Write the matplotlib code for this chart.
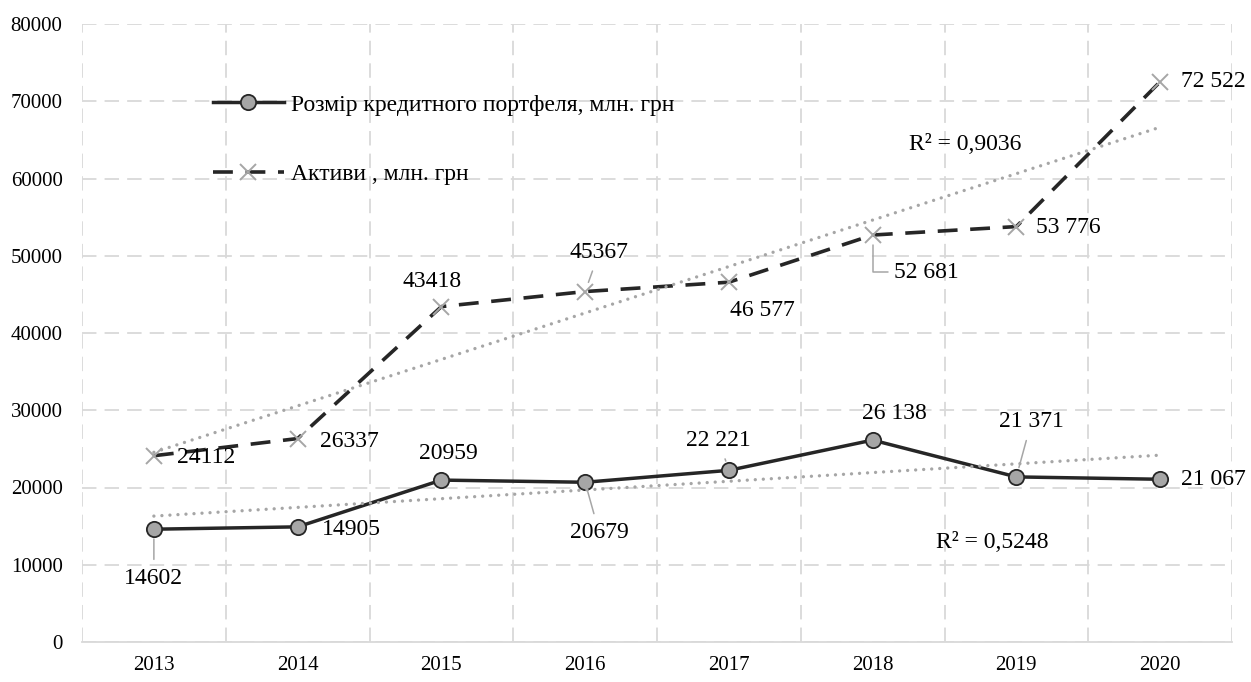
import numpy as np
import matplotlib.pyplot as plt

years = ['2013', '2014', '2015', '2016', '2017', '2018', '2019', '2020']
portfolio = [14602, 14905, 20959, 20679, 22221, 26138, 21371, 21067]
assets = [24112, 26337, 43418, 45367, 46577, 52681, 53776, 72522]
portfolio_labels = ['14602', '14905', '20959', '20679', '22 221', '26 138', '21 371', '21 067']
assets_labels = ['24112', '26337', '43418', '45367', '46 577', '52 681', '53 776', '72 522']
portfolio_name = 'Розмір кредитного портфеля, млн. грн'
assets_name = 'Активи , млн. грн'
y_ticks = list(range(0, 80001, 10000))

plt.rcParams['font.family'] = ['Liberation Serif', 'DejaVu Serif']

DARK = '#262626'
GREY = '#a6a6a6'
GRID = '#d9d9d9'

fig = plt.figure(figsize=(12.51, 6.82), dpi=100)
ax = fig.add_axes([82 / 1251, 40 / 682, 1150 / 1251, 618 / 682])
x = np.arange(1, len(years) + 1)

# grid and axes
ax.set_xlim(0.5, len(years) + 0.5)
ax.set_ylim(0, 80000)
ax.set_yticks(y_ticks)
ax.set_yticklabels([str(v) for v in y_ticks])
ax.set_xticks(x)
ax.set_xticklabels(years)
ax.set_xticks(np.arange(0.5, len(years) + 1, 1), minor=True)
ax.tick_params(axis='both', which='both', length=0, labelsize=15, colors='black')
ax.tick_params(axis='y', pad=14)
ax.tick_params(axis='x', pad=10)
ax.grid(axis='y', which='major', color=GRID, lw=1.3, linestyle=(0, (8, 4.5)))
ax.grid(axis='x', which='minor', color=GRID, lw=1.3, linestyle=(0, (8, 4.5)))
ax.set_axisbelow(True)
for side in ['left', 'right', 'top']:
    ax.spines[side].set_visible(False)
ax.spines['bottom'].set_color(GRID)
ax.spines['bottom'].set_linewidth(1.3)

# series
ax.plot(x, portfolio, color=DARK, lw=2.5, marker='o', markersize=11,
        markerfacecolor=GREY, markeredgecolor=DARK, markeredgewidth=1.3,
        label=portfolio_name, zorder=3)
ax.plot(x, assets, color=DARK, lw=2.6, linestyle=(0, (5.5, 3.5)), marker='x',
        markersize=11, markeredgecolor=GREY, markeredgewidth=1.4,
        label=assets_name, zorder=3)

# linear trendlines
def trend(values):
    k, b = np.polyfit(x, values, 1)
    fit = k * x + b
    vals = np.array(values)
    r2 = 1 - np.sum((vals - fit) ** 2) / np.sum((vals - vals.mean()) ** 2)
    ax.plot([x[0], x[-1]], [k * x[0] + b, k * x[-1] + b], color=GREY, lw=2.4,
            linestyle=(0, (0.01, 2.4)), dash_capstyle='round', zorder=4)
    return f'R² = {r2:.4f}'.replace('.', ',')

r2_assets = trend(assets)
r2_portfolio = trend(portfolio)
ax.annotate(r2_assets, xy=(965 / 1251, 1 - 145 / 682), xycoords='figure fraction',
            ha='center', va='center', fontsize=17)
ax.annotate(r2_portfolio, xy=(992 / 1251, 1 - 542 / 682), xycoords='figure fraction',
            ha='center', va='center', fontsize=17)

# data labels: (dx, dy) in pixels, ha, leader style
px = 0.72
port_pos = [(0, -49, 'center', 'v'), (24, -3, 'left', None), (7, 27, 'center', None),
            (14, -50, 'center', 'd'), (-10, 30, 'center', 'd'), (22, 27, 'center', None),
            (15, 55, 'center', 'd'), (21, 0, 'left', None)]
asset_pos = [(23, -2, 'left', None), (22, -3, 'left', None), (-9, 25, 'center', None),
             (14, 39, 'center', 'd'), (33, -28, 'center', None), (21, -37, 'left', 'e'),
             (20, -1, 'left', None), (21, 0, 'left', None)]

def put_labels(values, texts, pos):
    for xi, v, t, (dx, dy, ha, lead) in zip(x, values, texts, pos):
        arrow = None
        if lead == 'v' or lead == 'd':
            arrow = dict(arrowstyle='-', color=GREY, lw=1.1, shrinkA=4, shrinkB=7)
        elif lead == 'e':
            arrow = dict(arrowstyle='-', color=GREY, lw=1.1, shrinkA=2, shrinkB=7,
                         relpos=(0, 0.5),
                         connectionstyle='angle,angleA=0,angleB=90,rad=0')
        ax.annotate(t, xy=(xi, v), xytext=(dx * px, dy * px), textcoords='offset points',
                    ha=ha, va='center', fontsize=17, arrowprops=arrow, zorder=5)

put_labels(portfolio, portfolio_labels, port_pos)
put_labels(assets, assets_labels, asset_pos)

ax.legend(loc='upper left', bbox_to_anchor=(213 / 1251, 1 - 94 / 682),
          bbox_transform=fig.transFigure, frameon=False, fontsize=17,
          handlelength=3.0, handletextpad=0.3, labelspacing=2.05,
          borderpad=0, borderaxespad=0, numpoints=1)

fig.savefig('out.png', dpi=100)
